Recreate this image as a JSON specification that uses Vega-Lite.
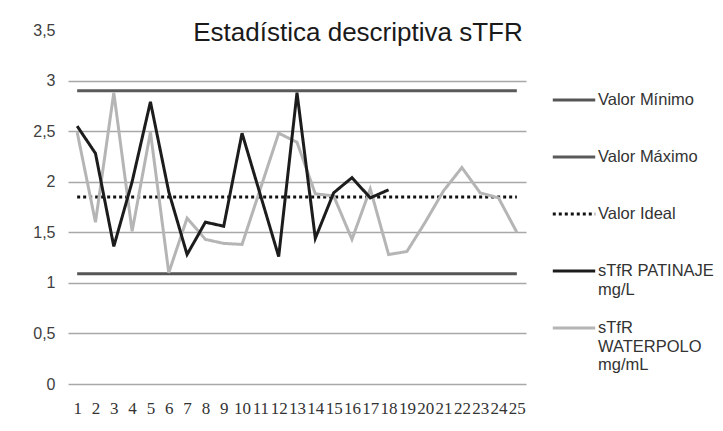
{
  "$schema": "https://vega.github.io/schema/vega-lite/v6.json",
  "width": 458,
  "height": 354,
  "autosize": {"type": "none"},
  "padding": {"left": 68, "top": 30, "right": 197, "bottom": 47},
  "background": "white",
  "config": {"view": {"stroke": null}},
  "title": {
    "text": "Estadística descriptiva sTFR",
    "fontSize": 26,
    "font": "Liberation Sans",
    "fontWeight": "normal",
    "color": "#1a1a1a",
    "anchor": "middle",
    "frame": "group",
    "offset": -45,
    "baseline": "alphabetic",
    "dx": 61
  },
  "datasets": {
    "d": [
      {"n": 1, "serie": "Valor Mínimo", "v": 1.09}, {"n": 2, "serie": "Valor Mínimo", "v": 1.09}, {"n": 3, "serie": "Valor Mínimo", "v": 1.09}, {"n": 4, "serie": "Valor Mínimo", "v": 1.09}, {"n": 5, "serie": "Valor Mínimo", "v": 1.09},
      {"n": 6, "serie": "Valor Mínimo", "v": 1.09}, {"n": 7, "serie": "Valor Mínimo", "v": 1.09}, {"n": 8, "serie": "Valor Mínimo", "v": 1.09}, {"n": 9, "serie": "Valor Mínimo", "v": 1.09}, {"n": 10, "serie": "Valor Mínimo", "v": 1.09},
      {"n": 11, "serie": "Valor Mínimo", "v": 1.09}, {"n": 12, "serie": "Valor Mínimo", "v": 1.09}, {"n": 13, "serie": "Valor Mínimo", "v": 1.09}, {"n": 14, "serie": "Valor Mínimo", "v": 1.09}, {"n": 15, "serie": "Valor Mínimo", "v": 1.09},
      {"n": 16, "serie": "Valor Mínimo", "v": 1.09}, {"n": 17, "serie": "Valor Mínimo", "v": 1.09}, {"n": 18, "serie": "Valor Mínimo", "v": 1.09}, {"n": 19, "serie": "Valor Mínimo", "v": 1.09}, {"n": 20, "serie": "Valor Mínimo", "v": 1.09},
      {"n": 21, "serie": "Valor Mínimo", "v": 1.09}, {"n": 22, "serie": "Valor Mínimo", "v": 1.09}, {"n": 23, "serie": "Valor Mínimo", "v": 1.09}, {"n": 24, "serie": "Valor Mínimo", "v": 1.09}, {"n": 25, "serie": "Valor Mínimo", "v": 1.09},
      {"n": 1, "serie": "Valor Máximo", "v": 2.9}, {"n": 2, "serie": "Valor Máximo", "v": 2.9}, {"n": 3, "serie": "Valor Máximo", "v": 2.9}, {"n": 4, "serie": "Valor Máximo", "v": 2.9}, {"n": 5, "serie": "Valor Máximo", "v": 2.9},
      {"n": 6, "serie": "Valor Máximo", "v": 2.9}, {"n": 7, "serie": "Valor Máximo", "v": 2.9}, {"n": 8, "serie": "Valor Máximo", "v": 2.9}, {"n": 9, "serie": "Valor Máximo", "v": 2.9}, {"n": 10, "serie": "Valor Máximo", "v": 2.9},
      {"n": 11, "serie": "Valor Máximo", "v": 2.9}, {"n": 12, "serie": "Valor Máximo", "v": 2.9}, {"n": 13, "serie": "Valor Máximo", "v": 2.9}, {"n": 14, "serie": "Valor Máximo", "v": 2.9}, {"n": 15, "serie": "Valor Máximo", "v": 2.9},
      {"n": 16, "serie": "Valor Máximo", "v": 2.9}, {"n": 17, "serie": "Valor Máximo", "v": 2.9}, {"n": 18, "serie": "Valor Máximo", "v": 2.9}, {"n": 19, "serie": "Valor Máximo", "v": 2.9}, {"n": 20, "serie": "Valor Máximo", "v": 2.9},
      {"n": 21, "serie": "Valor Máximo", "v": 2.9}, {"n": 22, "serie": "Valor Máximo", "v": 2.9}, {"n": 23, "serie": "Valor Máximo", "v": 2.9}, {"n": 24, "serie": "Valor Máximo", "v": 2.9}, {"n": 25, "serie": "Valor Máximo", "v": 2.9},
      {"n": 1, "serie": "Valor Ideal", "v": 1.85}, {"n": 2, "serie": "Valor Ideal", "v": 1.85}, {"n": 3, "serie": "Valor Ideal", "v": 1.85}, {"n": 4, "serie": "Valor Ideal", "v": 1.85}, {"n": 5, "serie": "Valor Ideal", "v": 1.85},
      {"n": 6, "serie": "Valor Ideal", "v": 1.85}, {"n": 7, "serie": "Valor Ideal", "v": 1.85}, {"n": 8, "serie": "Valor Ideal", "v": 1.85}, {"n": 9, "serie": "Valor Ideal", "v": 1.85}, {"n": 10, "serie": "Valor Ideal", "v": 1.85},
      {"n": 11, "serie": "Valor Ideal", "v": 1.85}, {"n": 12, "serie": "Valor Ideal", "v": 1.85}, {"n": 13, "serie": "Valor Ideal", "v": 1.85}, {"n": 14, "serie": "Valor Ideal", "v": 1.85}, {"n": 15, "serie": "Valor Ideal", "v": 1.85},
      {"n": 16, "serie": "Valor Ideal", "v": 1.85}, {"n": 17, "serie": "Valor Ideal", "v": 1.85}, {"n": 18, "serie": "Valor Ideal", "v": 1.85}, {"n": 19, "serie": "Valor Ideal", "v": 1.85}, {"n": 20, "serie": "Valor Ideal", "v": 1.85},
      {"n": 21, "serie": "Valor Ideal", "v": 1.85}, {"n": 22, "serie": "Valor Ideal", "v": 1.85}, {"n": 23, "serie": "Valor Ideal", "v": 1.85}, {"n": 24, "serie": "Valor Ideal", "v": 1.85}, {"n": 25, "serie": "Valor Ideal", "v": 1.85},
      {"n": 1, "serie": "sTfR WATERPOLO mg/mL", "v": 2.49}, {"n": 2, "serie": "sTfR WATERPOLO mg/mL", "v": 1.6}, {"n": 3, "serie": "sTfR WATERPOLO mg/mL", "v": 2.88}, {"n": 4, "serie": "sTfR WATERPOLO mg/mL", "v": 1.51}, {"n": 5, "serie": "sTfR WATERPOLO mg/mL", "v": 2.49},
      {"n": 6, "serie": "sTfR WATERPOLO mg/mL", "v": 1.1}, {"n": 7, "serie": "sTfR WATERPOLO mg/mL", "v": 1.64}, {"n": 8, "serie": "sTfR WATERPOLO mg/mL", "v": 1.43}, {"n": 9, "serie": "sTfR WATERPOLO mg/mL", "v": 1.39}, {"n": 10, "serie": "sTfR WATERPOLO mg/mL", "v": 1.38},
      {"n": 11, "serie": "sTfR WATERPOLO mg/mL", "v": 1.93}, {"n": 12, "serie": "sTfR WATERPOLO mg/mL", "v": 2.48}, {"n": 13, "serie": "sTfR WATERPOLO mg/mL", "v": 2.39}, {"n": 14, "serie": "sTfR WATERPOLO mg/mL", "v": 1.88}, {"n": 15, "serie": "sTfR WATERPOLO mg/mL", "v": 1.86},
      {"n": 16, "serie": "sTfR WATERPOLO mg/mL", "v": 1.43}, {"n": 17, "serie": "sTfR WATERPOLO mg/mL", "v": 1.93}, {"n": 18, "serie": "sTfR WATERPOLO mg/mL", "v": 1.28}, {"n": 19, "serie": "sTfR WATERPOLO mg/mL", "v": 1.31}, {"n": 20, "serie": "sTfR WATERPOLO mg/mL", "v": 1.6},
      {"n": 21, "serie": "sTfR WATERPOLO mg/mL", "v": 1.91}, {"n": 22, "serie": "sTfR WATERPOLO mg/mL", "v": 2.14}, {"n": 23, "serie": "sTfR WATERPOLO mg/mL", "v": 1.89}, {"n": 24, "serie": "sTfR WATERPOLO mg/mL", "v": 1.84}, {"n": 25, "serie": "sTfR WATERPOLO mg/mL", "v": 1.5},
      {"n": 1, "serie": "sTfR PATINAJE mg/L", "v": 2.55}, {"n": 2, "serie": "sTfR PATINAJE mg/L", "v": 2.28}, {"n": 3, "serie": "sTfR PATINAJE mg/L", "v": 1.36}, {"n": 4, "serie": "sTfR PATINAJE mg/L", "v": 2.0}, {"n": 5, "serie": "sTfR PATINAJE mg/L", "v": 2.79},
      {"n": 6, "serie": "sTfR PATINAJE mg/L", "v": 1.9}, {"n": 7, "serie": "sTfR PATINAJE mg/L", "v": 1.28}, {"n": 8, "serie": "sTfR PATINAJE mg/L", "v": 1.6}, {"n": 9, "serie": "sTfR PATINAJE mg/L", "v": 1.56}, {"n": 10, "serie": "sTfR PATINAJE mg/L", "v": 2.48},
      {"n": 11, "serie": "sTfR PATINAJE mg/L", "v": 1.87}, {"n": 12, "serie": "sTfR PATINAJE mg/L", "v": 1.26}, {"n": 13, "serie": "sTfR PATINAJE mg/L", "v": 2.88}, {"n": 14, "serie": "sTfR PATINAJE mg/L", "v": 1.44}, {"n": 15, "serie": "sTfR PATINAJE mg/L", "v": 1.89},
      {"n": 16, "serie": "sTfR PATINAJE mg/L", "v": 2.04}, {"n": 17, "serie": "sTfR PATINAJE mg/L", "v": 1.84}, {"n": 18, "serie": "sTfR PATINAJE mg/L", "v": 1.92}
    ]
  },
  "data": {"name": "d"},
  "mark": {"type": "line", "strokeWidth": 3, "strokeCap": "butt", "strokeJoin": "miter"},
  "encoding": {
    "x": {
      "field": "n",
      "type": "ordinal",
      "scale": {"type": "point", "padding": 0.5},
      "axis": {
        "title": null,
        "labelAngle": 0,
        "ticks": false,
        "domain": false,
        "grid": false,
        "labelFont": "Liberation Sans Narrow",
        "labelFontSize": 17,
        "labelColor": "#333333",
        "labelPadding": 16
      }
    },
    "y": {
      "field": "v",
      "type": "quantitative",
      "scale": {"domain": [0, 3.5], "nice": false},
      "axis": {
        "title": null,
        "values": [0, 0.5, 1, 1.5, 2, 2.5, 3, 3.5],
        "labelExpr": "replace(format(datum.value, '~g'), '.', ',')",
        "ticks": false,
        "domain": false,
        "gridColor": "#a8a8a8",
        "gridWidth": 1.5,
        "gridOpacity": {"condition": {"test": "datum.value >= 3.4", "value": 0}, "value": 1},
        "labelFont": "Liberation Sans",
        "labelFontSize": 16,
        "labelColor": "#404040",
        "labelPadding": 13
      }
    },
    "color": {
      "field": "serie",
      "type": "nominal",
      "scale": {
        "domain": ["Valor Mínimo", "Valor Máximo", "Valor Ideal", "sTfR PATINAJE mg/L", "sTfR WATERPOLO mg/mL"],
        "range": ["#555555", "#5a5a5a", "#111111", "#1c1c1c", "#b5b5b5"]
      },
      "legend": {
        "title": null,
        "orient": "none",
        "legendX": 483,
        "legendY": 47,
        "direction": "vertical",
        "symbolType": "stroke",
        "symbolSize": 1800,
        "symbolStrokeWidth": 3,
        "labelFont": "Liberation Sans",
        "labelFontSize": 16.5,
        "labelColor": "#333333",
        "labelLimit": 200,
        "labelOffset": 1,
        "rowPadding": 7,
        "labelExpr": "datum.label == 'sTfR PATINAJE mg/L' ? ['sTfR  PATINAJE', 'mg/L'] : datum.label == 'sTfR WATERPOLO mg/mL' ? ['sTfR', 'WATERPOLO', 'mg/mL'] : [datum.label, '']"
      }
    },
    "strokeDash": {
      "field": "serie",
      "type": "nominal",
      "scale": {
        "domain": ["Valor Mínimo", "Valor Máximo", "Valor Ideal", "sTfR PATINAJE mg/L", "sTfR WATERPOLO mg/mL"],
        "range": [[1, 0], [1, 0], [3, 3], [1, 0], [1, 0]]
      },
      "legend": {
        "title": null,
        "orient": "none",
        "legendX": 483,
        "legendY": 47,
        "direction": "vertical",
        "symbolType": "stroke",
        "symbolSize": 1800,
        "symbolStrokeWidth": 3,
        "labelFont": "Liberation Sans",
        "labelFontSize": 16.5,
        "labelColor": "#333333",
        "labelLimit": 200,
        "labelOffset": 1,
        "rowPadding": 7,
        "labelExpr": "datum.label == 'sTfR PATINAJE mg/L' ? ['sTfR  PATINAJE', 'mg/L'] : datum.label == 'sTfR WATERPOLO mg/mL' ? ['sTfR', 'WATERPOLO', 'mg/mL'] : [datum.label, '']"
      }
    }
  }
}
